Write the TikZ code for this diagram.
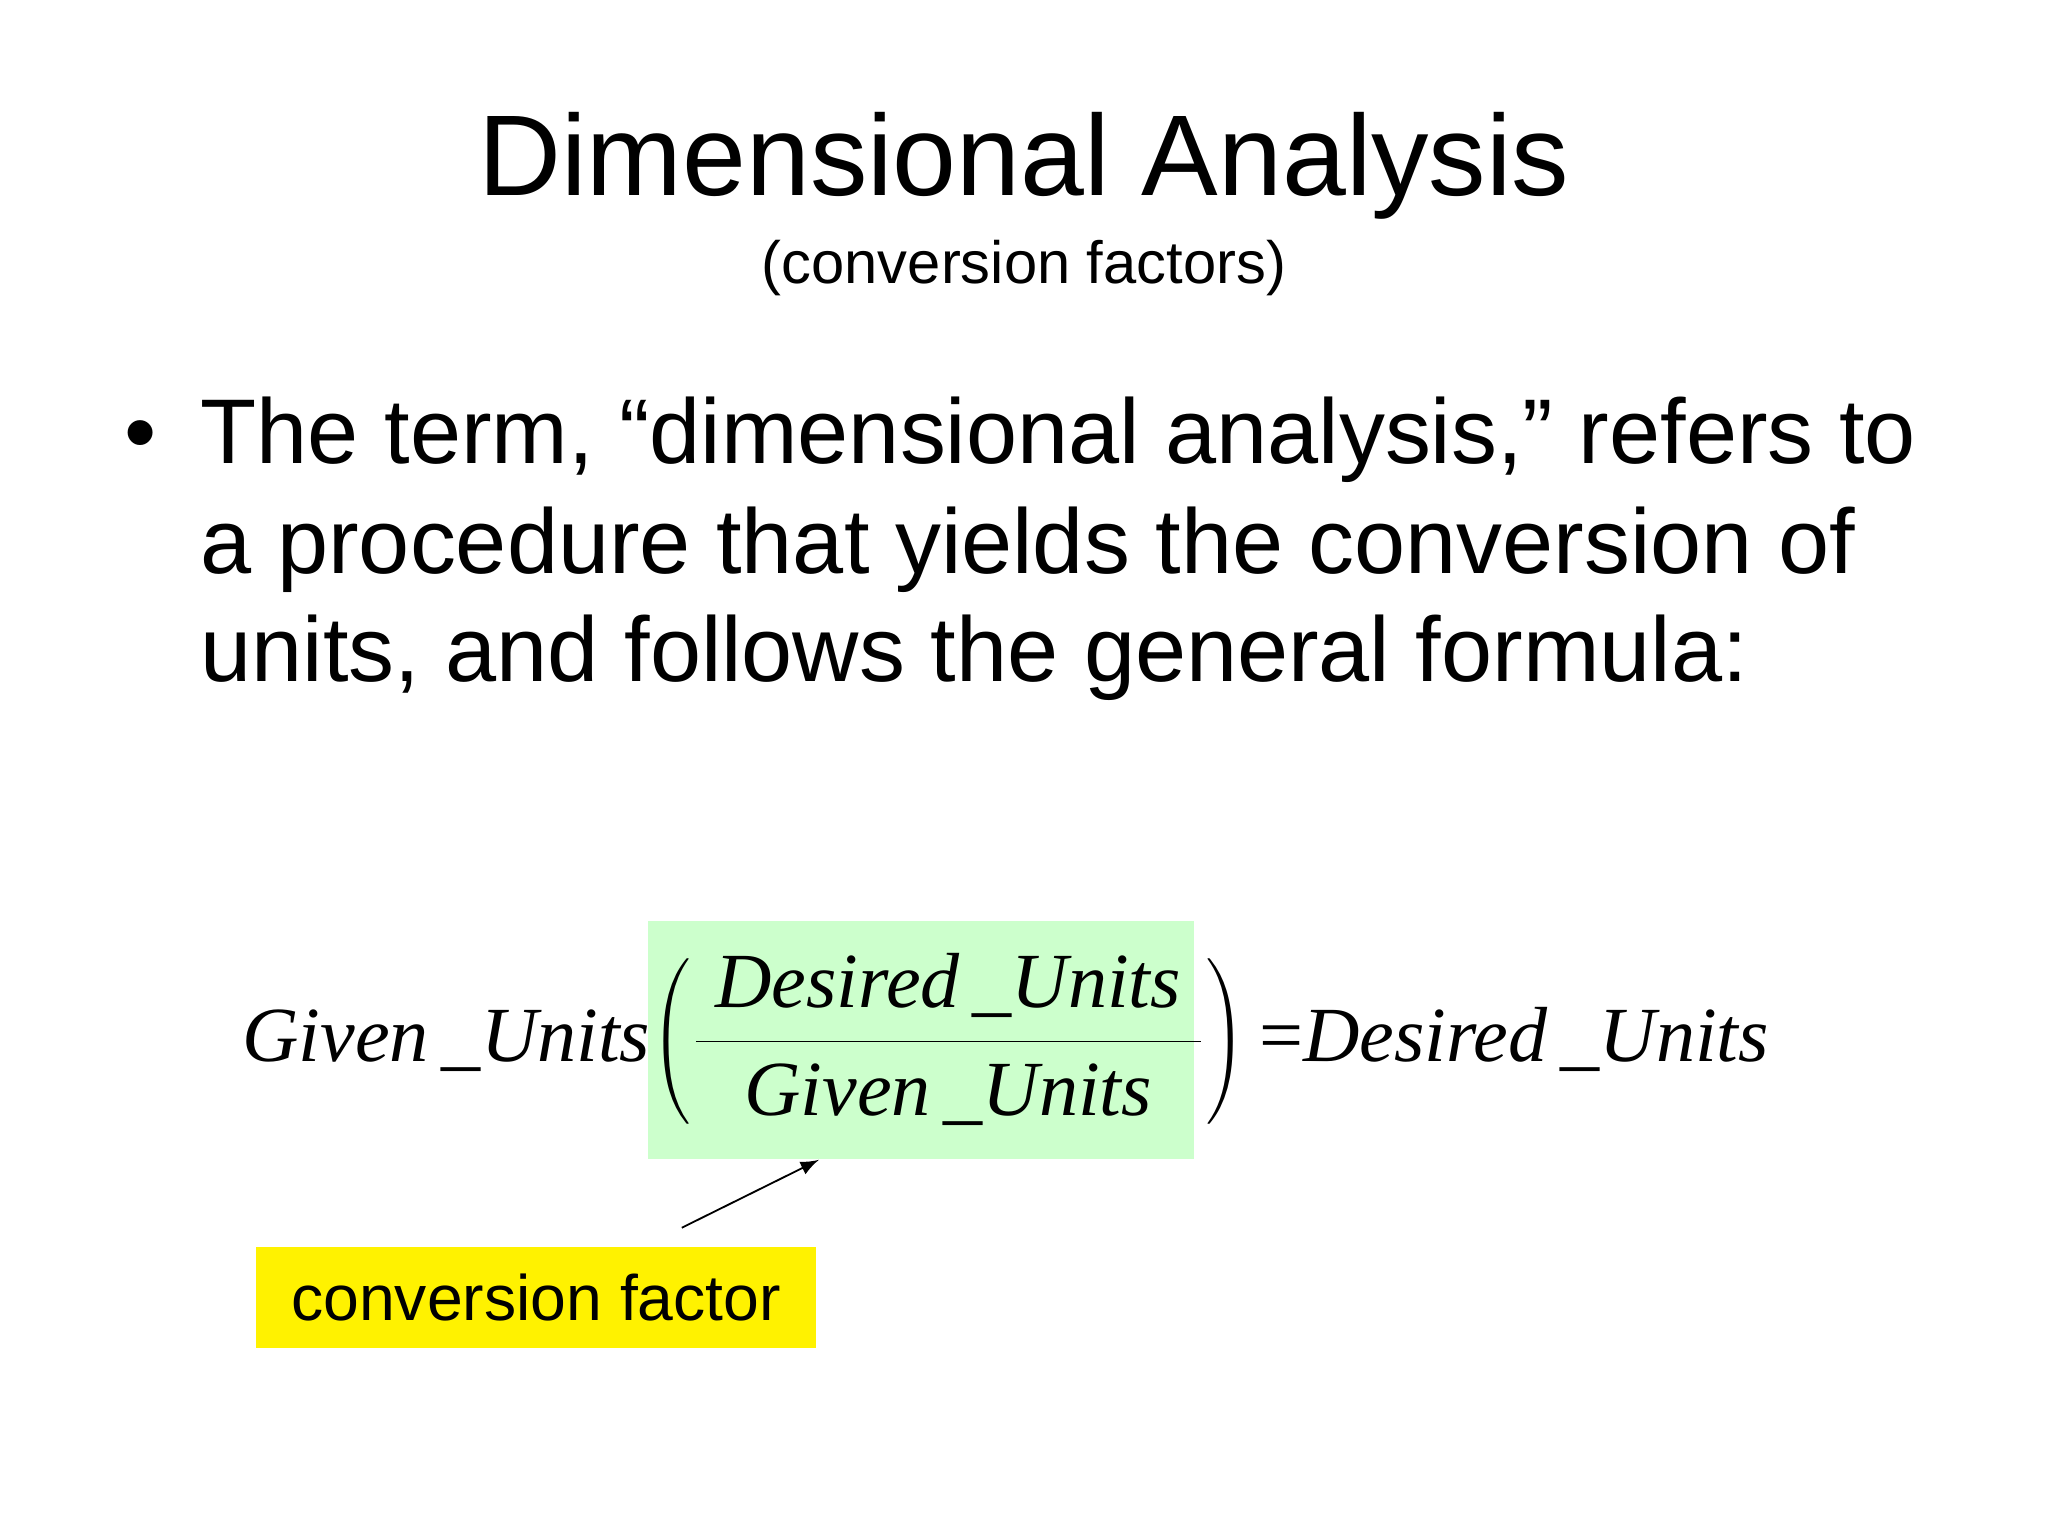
\documentclass[tikz,border=0pt]{standalone}
\usepackage{fontspec}
\setmainfont{Liberation Sans}
\newfontfamily\tnr{Liberation Serif}
\begin{document}
\begin{tikzpicture}[x=0.01cm,y=-0.01cm,
  txt/.style={inner sep=0pt,anchor=base west}]
\useasboundingbox (0,0) rectangle (1568,1176);
\fill[white] (0,0) rectangle (1568,1176);
\node[inner sep=0pt,anchor=base] (title) at (784,150) {\fontsize{25}{30}\selectfont Dimensional Analysis};
\node[inner sep=0pt,anchor=base] (sub) at (784,217) {\fontsize{13}{16}\selectfont (conversion factors)};
\node[txt] (bul) at (95,355) {\fontsize{20}{24}\selectfont •};
\node[txt] (l1) at (153,355) {\fontsize{20}{24}\selectfont The term, “dimensional analysis,” refers to};
\node[txt] (l2) at (153,439) {\fontsize{20}{24}\selectfont a procedure that yields the conversion of};
\node[txt] (l3) at (153,522) {\fontsize{20}{24}\selectfont units, and follows the general formula:};
\fill[green!20] (496,705) rectangle (914,887);
\node[inner sep=0pt] (eq) at (770,796) {\tnr\fontsize{17}{20}\selectfont\itshape Given\,\_Units$\displaystyle\left(\frac{\hbox{\tnr\itshape\ Desired\,\_Units\ }}{\hbox{\tnr\itshape\ Given\,\_Units\ }}\right)$\,\upshape=\itshape Desired\,\_Units};
\node[fill=yellow,minimum width=429*0.01cm,minimum height=77*0.01cm,inner sep=0pt] (cf) at (410.5,993.5) {\fontsize{14}{17}\selectfont conversion factor};
\coordinate (a0) at (522,940);
\coordinate (a1) at (627,888);
\draw[-latex,thin] (a0) -- (a1);
\end{tikzpicture}
\end{document}
